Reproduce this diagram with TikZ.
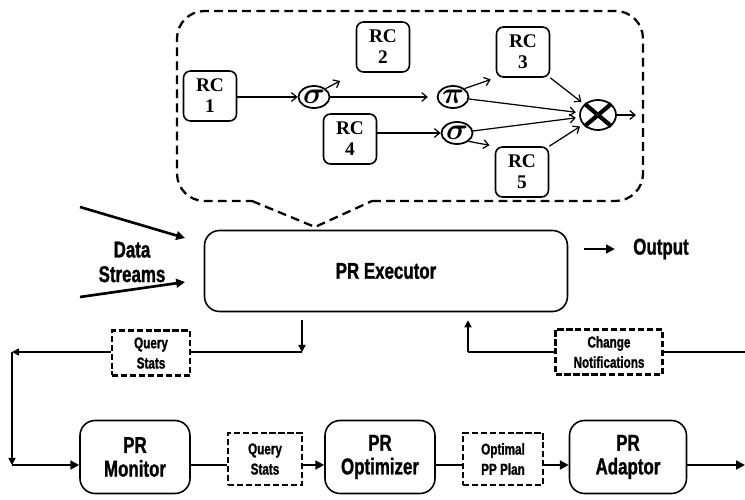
\documentclass[tikz,border=0pt]{standalone}
\usepackage{fontspec}
\setmainfont{Liberation Sans}
\newfontfamily\cnfont{Liberation Sans}[UprightFont={* Bold}, FakeStretch=0.74, FakeBold=1.2]
\newfontfamily\rcfont{Liberation Serif}
\usetikzlibrary{arrows.meta,shapes.geometric}

\begin{document}
\begin{tikzpicture}[x=0.02cm, y=-0.02cm,
	rc/.style={draw, line width=0.9pt, rounded corners=4pt, minimum width=1.06cm, minimum height=1.0cm, align=center, inner sep=1pt, font=\rcfont\bfseries\fontsize{11}{12}\selectfont},
	op/.style={draw, ellipse, line width=1pt, minimum width=0.6cm, minimum height=0.44cm, inner sep=0pt, font=\boldmath\fontsize{16}{16}\selectfont},
	pr/.style={draw, line width=0.9pt, rounded corners=0.3cm, minimum width=2.2cm, minimum height=1.46cm, align=center, font=\cnfont\fontsize{13}{13.5}\selectfont},
	msg/.style={draw, dash pattern=on 3.5pt off 1.6pt, line width=1.4pt, align=center, inner sep=1pt, font=\cnfont\fontsize{9}{11.5}\selectfont},
	lbl/.style={align=center, font=\cnfont\fontsize{13}{14}\selectfont},
	small/.style={line width=0.7pt, -{Straight Barb[length=3pt,width=5pt]}},
	flow/.style={line width=0.9pt, -{Triangle[length=4pt,width=4pt]}},
	heavy/.style={line width=1.5pt, -{Triangle[length=5pt,width=5pt]}}]
	\useasboundingbox (0,0) rectangle (745,500);

	\draw[dash pattern=on 5pt off 3pt, line width=1.3pt, rounded corners=0.55cm] (372,201) -- (643,201) -- (643,11) -- (177,11) -- (177,201) -- (252,201);
	\draw[dash pattern=on 5pt off 3pt, line width=1.3pt] (252,201) -- (315,227) -- (372,201);

	\node[rc] (r1) at (210,96) {RC\\1};
	\node[rc] (r2) at (383,47) {RC\\2};
	\node[rc] (r3) at (523,52) {RC\\3};
	\node[rc] (r4) at (350,139) {RC\\4};
	\node[rc] (r5) at (522,172) {RC\\5};

	\node[op] (s1) at (314,97) {$\sigma$};
	\node[op] (p) at (453,97) {$\pi$};
	\node[op] (s2) at (457,133) {$\sigma$};
	\node[op, minimum width=0.72cm, minimum height=0.6cm] (j) at (598,115) {};
	\draw[line width=2.4pt] (j.north west) -- (j.south east) (j.south west) -- (j.north east);
	\coordinate (jo) at (636,115);

	\draw[small] (r1.east |- s1) -- (s1);
	\draw[small, shorten >=10pt] (s1.north east) -- (r2.south west);
	\draw[small, shorten >=5pt] (s1.east) -- (p.west);
	\draw[small, shorten >=3pt] (p.north east) -- (r3.south west);
	\draw[small, shorten >=2pt] (p) -- (j);
	\draw[small] (r4.east |- s2) -- (s2);
	\draw[small, shorten >=2pt] (s2) -- (j);
	\draw[small, shorten >=3pt] (s2.south east) -- (r5.north west);
	\draw[small, shorten >=2pt] (r3.south east) -- (j);
	\draw[small, shorten >=2pt] (r5.north east) -- (j);
	\draw[small] (j.east) -- (jo);

	\node[draw, line width=0.9pt, rounded corners=0.3cm, minimum width=7.26cm, minimum height=1.62cm, font=\cnfont\fontsize{13}{14}\selectfont] (exec) at (386,271) {PR Executor};
	\node[lbl] (ds) at (132,262) {Data\\Streams};
	\node[lbl] (outp) at (661,249) {Output};
	\coordinate (ds1) at (80,207);
	\coordinate (ds1e) at (185,238);
	\coordinate (ds2) at (80,297);
	\coordinate (ds2e) at (185,282);
	\draw[heavy] (ds1) -- (ds1e);
	\draw[heavy] (ds2) -- (ds2e);
	\draw[heavy, shorten <=9pt, shorten >=7pt] (exec.east |- outp) -- (outp.west);

	\node[msg, minimum width=1.56cm, minimum height=0.9cm] (qs1) at (151,353) {Query\\Stats};
	\node[msg, minimum width=2.14cm, minimum height=0.9cm] (cn) at (609,352) {Change\\Notifications};

	\node[pr] (mon) at (135,457) {PR\\Monitor};
	\node[msg, minimum width=1.48cm, minimum height=1.04cm] (qs2) at (265,459) {Query\\Stats};
	\node[pr] (opt) at (380,457) {PR\\Optimizer};
	\node[msg, minimum width=1.6cm, minimum height=1.04cm] (pp) at (503,459) {Optimal\\PP Plan};
	\node[pr, minimum width=2.34cm] (ada) at (628,457) {PR\\Adaptor};

	\coordinate (dn) at (302,352);
	\coordinate (up) at (468,352);
	\coordinate (lt) at (12,352);
	\coordinate (lb) at (12,465);
	\coordinate (rt) at (745,352);
	\coordinate (rb) at (745,465);

	\draw[flow] ([yshift=-0.16cm]exec.south -| dn) -- (dn);
	\draw[line width=0.9pt] (dn) -- (dn -| qs1.east);
	\draw[flow] (qs1.west |- lt) -- (lt);
	\draw[flow] (lt) -- (lb);
	\draw[heavy] (lb) -- (lb -| mon.west);

	\draw[flow] (up) -- ([yshift=-0.16cm]exec.south -| up);
	\draw[line width=0.9pt] (cn.west |- up) -- (up);
	\draw[line width=0.9pt] (cn.east |- rt) -- (rt);

	\draw[line width=1.5pt] (mon.east |- lb) -- (qs2.west |- lb);
	\draw[heavy] (qs2.east |- lb) -- (opt.west |- lb);
	\draw[line width=1.5pt] (opt.east |- lb) -- (pp.west |- lb);
	\draw[heavy] (pp.east |- lb) -- (ada.west |- lb);
	\draw[heavy] (ada.east |- rb) -- (rb);
\end{tikzpicture}
\end{document}
